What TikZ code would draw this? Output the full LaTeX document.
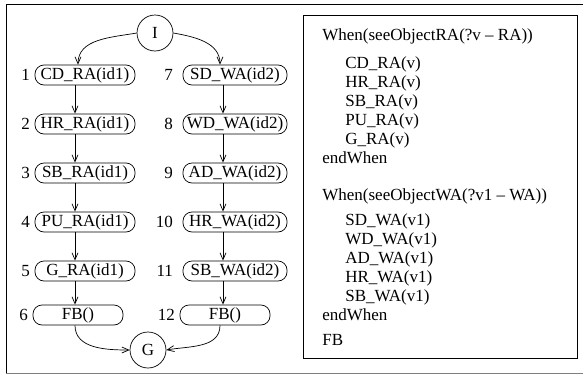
\documentclass[tikz,border=0pt]{standalone}
\usepackage{fontspec}
\setmainfont{Liberation Serif}
\usetikzlibrary{arrows.meta}

\tikzset{
  act/.style={draw, rounded corners=9pt, minimum width=100pt, minimum height=20pt, inner sep=1pt},
  ends/.style={draw, circle, minimum size=36pt, inner sep=0pt},
  flow/.style={-{Straight Barb[length=7pt,width=6pt]}},
  every label/.style={label distance=1pt},
}

\begin{document}
\begin{tikzpicture}[x=1pt, y=1pt, line width=0.7pt, font=\fontsize{17}{19}\selectfont]
\useasboundingbox (0,-375) rectangle (583,0);
% frame
\draw (583,-4) -- (6,-4) -- (6,-373);
\draw[gray] (6,-373) -- (583,-373);

% plan
\node[ends] (I) at (155,-33) {I};
\node[act, label=left:1] (cdra) at (85,-75) {CD\_RA(id1)};
\node[act, label=left:2] (hrra) at (85,-124) {HR\_RA(id1)};
\node[act, label=left:3] (sbra) at (85,-173) {SB\_RA(id1)};
\node[act, label=left:4] (pura) at (85,-222) {PU\_RA(id1)};
\node[act, label=left:5] (gra) at (85,-271) {G\_RA(id1)};
\node[act, minimum width=90pt, label=left:6] (fbra) at (78,-315) {FB()};
\node[act, minimum width=104pt, label={[label distance=6pt]left:7}] (sdwa) at (235,-75) {SD\_WA(id2)};
\node[act, minimum width=104pt, label={[label distance=6pt]left:8}] (wdwa) at (235,-124) {WD\_WA(id2)};
\node[act, minimum width=104pt, label={[label distance=6pt]left:9}] (adwa) at (235,-173) {AD\_WA(id2)};
\node[act, minimum width=104pt, label={[label distance=6pt]left:10}] (hrwa) at (235,-222) {HR\_WA(id2)};
\node[act, minimum width=104pt, label={[label distance=6pt]left:11}] (sbwa) at (235,-271) {SB\_WA(id2)};
\node[act, minimum width=90pt, label=left:12] (fbwa) at (225,-315) {FB()};
\node[ends] (G) at (148,-350) {G};

\draw[flow] (I.west) to[out=190,in=90] ([xshift=-7pt]cdra.north);
\draw[flow] (I.east) to[out=-10,in=90] ([xshift=-15pt]sdwa.north);
\draw[flow] ([xshift=-10pt]cdra.south) -- ([xshift=-10pt]hrra.north);
\draw[flow] ([xshift=-10pt]hrra.south) -- ([xshift=-10pt]sbra.north);
\draw[flow] ([xshift=-10pt]sbra.south) -- ([xshift=-10pt]pura.north);
\draw[flow] ([xshift=-10pt]pura.south) -- ([xshift=-10pt]gra.north);
\draw[flow] ([xshift=-10pt]gra.south) -- ([xshift=-10pt]gra.south |- fbra.north);
\draw[flow] ([xshift=-12pt]sdwa.south) -- ([xshift=-12pt]wdwa.north);
\draw[flow] ([xshift=-12pt]wdwa.south) -- ([xshift=-12pt]adwa.north);
\draw[flow] ([xshift=-12pt]adwa.south) -- ([xshift=-12pt]hrwa.north);
\draw[flow] ([xshift=-12pt]hrwa.south) -- ([xshift=-12pt]sbwa.north);
\draw[flow] ([xshift=-12pt]sbwa.south) -- ([xshift=-12pt]sbwa.south |- fbwa.north);
\draw[flow] ([xshift=-3pt]fbra.south) to[out=-90,in=180] (G.west);
\draw[flow] ([xshift=-5pt]fbwa.south) to[out=-90,in=10] (G.east);

% rule text
\node[draw, anchor=north west, minimum width=274pt, minimum height=343pt] (rules) at (303,-15) {};
\node[anchor=north west, align=left, inner sep=0pt] (code) at (322,-28) {%
When(seeObjectRA(?v – RA))\\[9pt]
\hspace*{23pt}CD\_RA(v)\\
\hspace*{23pt}HR\_RA(v)\\
\hspace*{23pt}SB\_RA(v)\\
\hspace*{23pt}PU\_RA(v)\\
\hspace*{23pt}G\_RA(v)\\
endWhen\\[18pt]
When(seeObjectWA(?v1 – WA))\\[6pt]
\hspace*{23pt}SD\_WA(v1)\\
\hspace*{23pt}WD\_WA(v1)\\
\hspace*{23pt}AD\_WA(v1)\\
\hspace*{23pt}HR\_WA(v1)\\
\hspace*{23pt}SB\_WA(v1)\\
endWhen\\[6pt]
FB};
\end{tikzpicture}
\end{document}
